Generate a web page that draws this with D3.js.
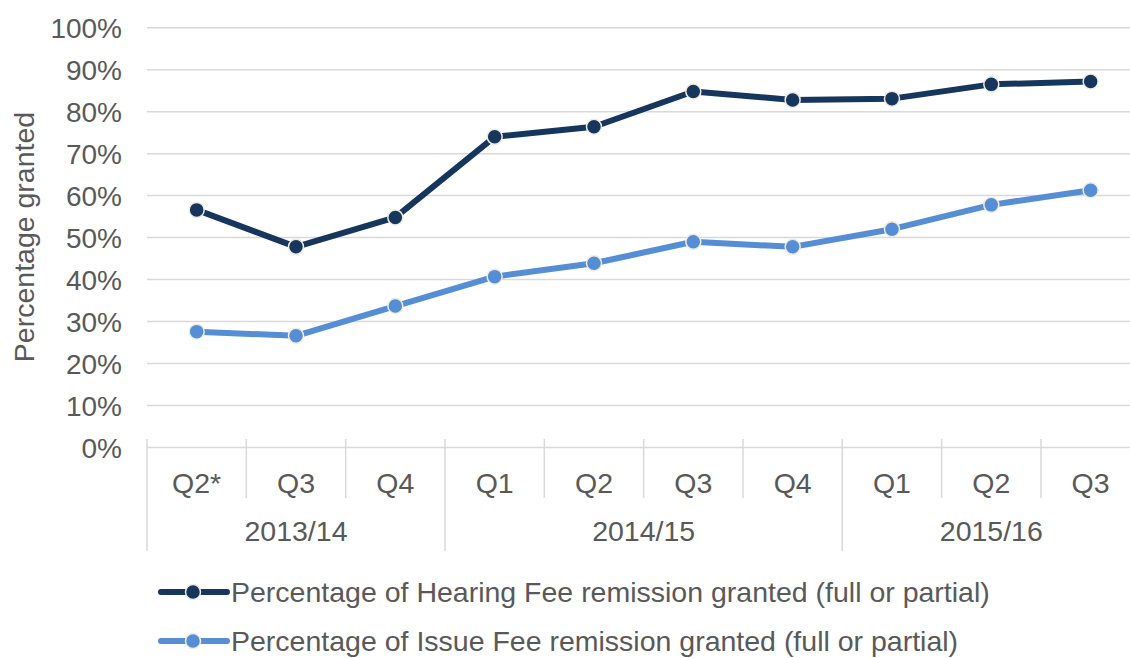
<!DOCTYPE html>
<html><head><meta charset="utf-8">
<script src="https://cdn.jsdelivr.net/npm/d3@7/dist/d3.min.js"></script>
<style>
html,body{margin:0;padding:0;background:#fff;}
svg{display:block;font-family:"Liberation Sans",Arial,sans-serif;}
</style></head>
<body><svg id="c" width="1130" height="658"></svg>
<script>
const quarters = ["Q2*","Q3","Q4","Q1","Q2","Q3","Q4","Q1","Q2","Q3"];
const years = [{label:"2013/14", start:0, end:3},{label:"2014/15", start:3, end:7},{label:"2015/16", start:7, end:10}];
const hearing = [56.6, 47.8, 54.8, 74.0, 76.4, 84.8, 82.8, 83.1, 86.5, 87.2];
const issue = [27.6, 26.6, 33.7, 40.7, 43.9, 49.0, 47.8, 52.0, 57.8, 61.3];
const yTicks = [0,10,20,30,40,50,60,70,80,90,100];
const seriesNames = ["Percentage of Hearing Fee remission granted (full or partial)","Percentage of Issue Fee remission granted (full or partial)"];
const colors = ["#17365d","#558ed5"];

const svg = d3.select("#c");
const x = d3.scaleBand().domain(d3.range(quarters.length)).range([147, 1140.3]).padding(0);
const y = d3.scaleLinear().domain([0,100]).range([447.5, 27.7]);
const textCol = "#595959", gridCol = "#d9d9d9";
const fs = 28.5;

svg.append("g").selectAll("line").data(yTicks.filter(d=>d>0)).join("line")
  .attr("x1",147).attr("x2",1140).attr("y1",d=>y(d)).attr("y2",d=>y(d))
  .attr("stroke",gridCol).attr("stroke-width",1.5);

const yAxis = d3.axisLeft(y).tickValues(yTicks).tickFormat(d=>d+"%").tickSize(0).tickPadding(0);
const ya = svg.append("g").attr("transform","translate(122,0)").call(yAxis);
ya.select(".domain").remove();
ya.selectAll("text").attr("font-size",28).attr("fill",textCol).attr("font-family","Liberation Sans, Arial, sans-serif").attr("dy","0.36em");

svg.append("text").attr("transform","translate(34,237) rotate(-90)").attr("text-anchor","middle")
  .attr("font-size",fs).attr("fill",textCol).text("Percentage granted");

svg.append("line").attr("x1",147).attr("x2",1140).attr("y1",y(0)).attr("y2",y(0)).attr("stroke",gridCol).attr("stroke-width",1.5);

const bounds = d3.range(quarters.length+1);
const yearBounds = new Set(years.map(d=>d.start).concat([quarters.length]));
svg.append("g").selectAll("line").data(bounds).join("line")
  .attr("x1",i=>i<quarters.length? x(i): x(i-1)+x.bandwidth()).attr("x2",i=>i<quarters.length? x(i): x(i-1)+x.bandwidth())
  .attr("y1",439).attr("y2",i=>yearBounds.has(i)?551:498)
  .attr("stroke",gridCol).attr("stroke-width",1.5);

svg.append("g").selectAll("text").data(quarters).join("text")
  .attr("x",(d,i)=>x(i)+x.bandwidth()/2).attr("y",483).attr("dy","0.36em").attr("text-anchor","middle")
  .attr("font-size",fs).attr("fill",textCol).text(d=>d);
svg.append("g").selectAll("text").data(years).join("text")
  .attr("x",d=>(x(d.start)+x(d.end-1)+x.bandwidth())/2).attr("y",531).attr("dy","0.36em").attr("text-anchor","middle")
  .attr("font-size",fs).attr("fill",textCol).text(d=>d.label);

const line = d3.line().x((d,i)=>x(i)+x.bandwidth()/2).y(d=>y(d));
[hearing, issue].forEach((s,k)=>{
  svg.append("path").datum(s).attr("d",line).attr("fill","none").attr("stroke",colors[k]).attr("stroke-width",6).attr("stroke-linejoin","round");
  svg.append("g").selectAll("circle").data(s).join("circle")
    .attr("cx",(d,i)=>x(i)+x.bandwidth()/2).attr("cy",d=>y(d)).attr("r",7.5)
    .attr("fill",colors[k]).attr("stroke","#eeece1").attr("stroke-width",1.5);
});

seriesNames.forEach((n,k)=>{
  const ly = 592 + k*49;
  const g = svg.append("g");
  g.append("line").attr("x1",161).attr("x2",227).attr("y1",ly).attr("y2",ly).attr("stroke",colors[k]).attr("stroke-width",6).attr("stroke-linecap","round");
  g.append("circle").attr("cx",193).attr("cy",ly).attr("r",7.5).attr("fill",colors[k]).attr("stroke","#eeece1").attr("stroke-width",1.5);
  g.append("text").attr("x",231).attr("y",ly).attr("dy","0.36em").attr("font-size",fs).attr("fill",textCol).text(n);
});
</script></body></html>
